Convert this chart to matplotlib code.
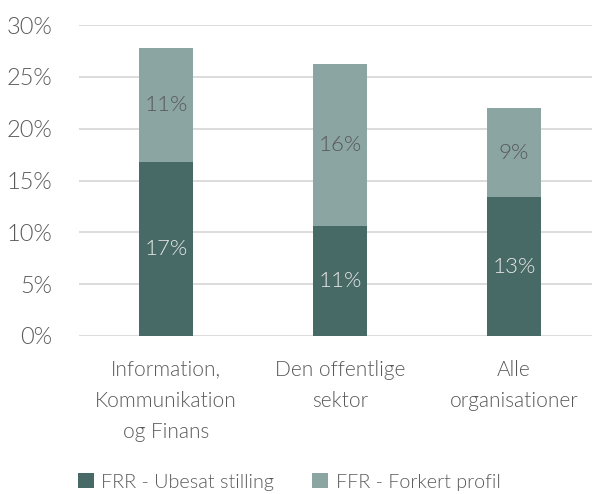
import numpy as np
import matplotlib.pyplot as plt
from matplotlib.ticker import FuncFormatter

categories = ["Information,\nKommunikation\nog Finans", "Den offentlige\nsektor", "Alle\norganisationer"]
ubesat = [16.8, 10.6, 13.4]
forkert = [11.0, 15.6, 8.6]
labels_ubesat = ["17%", "11%", "13%"]
labels_forkert = ["11%", "16%", "9%"]
series_names = ["FRR - Ubesat stilling", "FFR - Forkert profil"]

plt.rcParams['font.family'] = ['Lato', 'DejaVu Sans']
plt.rcParams['font.weight'] = 300

dark = "#476a66"
light = "#8ba5a2"
grey = "#595959"
fs = 15

fig = plt.figure(figsize=(5.92, 4.94), dpi=100)
ax = fig.add_axes([79 / 592, 1 - 336 / 494, (592 - 79) / 592, (336 - 25) / 494])

x = np.arange(len(categories))
w = 0.31
b1 = ax.bar(x, ubesat, w, color=dark, label=series_names[0], zorder=3)
b2 = ax.bar(x, forkert, w, bottom=ubesat, color=light, label=series_names[1], zorder=3)

for i in range(len(x)):
    ax.text(x[i], ubesat[i] / 2, labels_ubesat[i], ha="center", va="center",
            color="#e6e6e6", fontsize=16, fontweight=300, zorder=4)
    ax.text(x[i], ubesat[i] + forkert[i] / 2, labels_forkert[i], ha="center", va="center",
            color=grey, fontsize=16, fontweight=300, zorder=4)

ax.set_ylim(0, 30)
ax.set_xlim(-0.5, 2.448)
ax.set_yticks(np.arange(0, 31, 5))
ax.yaxis.set_major_formatter(FuncFormatter(lambda v, p: "%d%%" % v))
ax.set_xticks(x)
ax.set_xticklabels(categories, linespacing=1.7)
ax.tick_params(axis="both", length=0, labelsize=fs, labelcolor=grey)
ax.tick_params(axis="y", labelsize=17)
ax.tick_params(axis="x", pad=17)
ax.tick_params(axis="y", pad=19)
ax.grid(axis="y", color="#d9d9d9", linewidth=1.3, zorder=0)
for s in ax.spines.values():
    s.set_visible(False)

fig.legend(handles=[b1, b2], loc="center", bbox_to_anchor=(289 / 592, 1 - 482 / 494),
           ncol=2, frameon=False, fontsize=14.2, labelcolor=grey,
           handlelength=0.8, handleheight=0.8, handletextpad=0.4, columnspacing=1.9)

fig.savefig("out.png", dpi=100)
